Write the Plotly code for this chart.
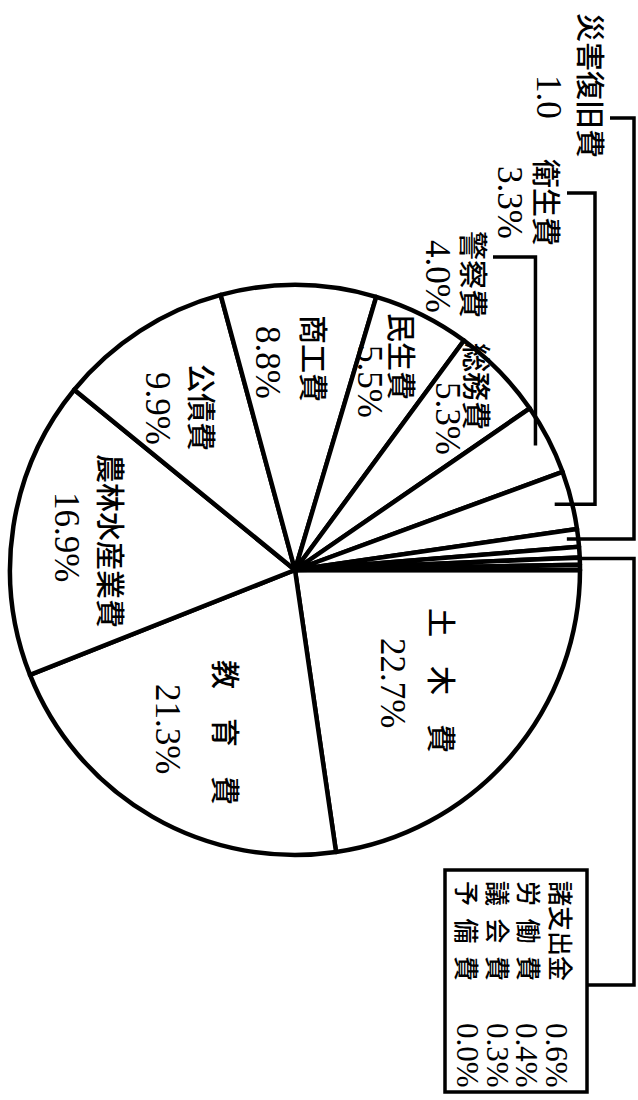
import math
import plotly.graph_objects as go

# ---- data ----
labels = ["土木費", "教育費", "農林水産業費", "公債費", "商工費", "民生費", "総務費",
          "警察費", "衛生費", "災害復旧費", "諸支出金", "労働費", "議会費", "予備費"]
values = [22.7, 21.3, 16.9, 9.9, 8.8, 5.5, 5.3, 4.0, 3.3, 1.0, 0.6, 0.4, 0.3, 0.0]
name_text = ["土　木　費", "教　育　費", "農林水産業費", "公債費", "商工費", "民生費", "総務費",
             "警察費", "衛生費", "災害復旧費", "諸支出金", "労\u2002働\u2002費", "議\u2002会\u2002費", "予\u2002備\u2002費"]
value_text = ["22.7%", "21.3%", "16.9%", "9.9%", "8.8%", "5.5%", "5.3%",
              "4.0%", "3.3%", "1.0", "0.6%", "0.4%", "0.3%", "0.0%"]

# ---- layout geometry (pixels) ----
W, H = 638, 1100
CX, CY, R = 295, 570, 285

def px(x):
    return x / W

def py(y):
    return 1 - y / H

total = sum(values)
cum = [0.0]
for v in values:
    cum.append(cum[-1] + v)

def slice_point(frac, rfrac):
    """point at fraction of the pie (clockwise from 3 o'clock), in pixels"""
    a = math.radians(360.0 * frac)
    return CX + rfrac * R * math.cos(a), CY + rfrac * R * math.sin(a)

def mid_frac(i):
    return (cum[i] + cum[i + 1]) / 2 / total

fig = go.Figure(go.Pie(
    labels=labels, values=values, sort=False, direction="clockwise", rotation=90,
    textinfo="none", hoverinfo="label+percent",
    marker=dict(colors=["white"] * len(values), line=dict(color="black", width=4.5)),
    domain=dict(x=[px(CX - R), px(CX + R)], y=[py(CY + R), py(CY - R)]),
    showlegend=False,
))

JP = "Noto Sans CJK JP"
NUM = "Liberation Serif, Noto Sans CJK JP"
ann = []

def add(text, x, y, size, family, weight=400):
    ann.append(dict(text=text, x=px(x), y=py(y), xref="paper", yref="paper",
                    xanchor="center", yanchor="middle", textangle=90, showarrow=False,
                    font=dict(family=family, size=size, color="black", weight=weight)))

# label positions (pixel centres) for name and value of each slice
name_pos = [(443, 680), (227, 732), (112, 541), (203, 407), (315, 358), (403, 356), (478, 386),
            (475, 274), (548, 202), (592, 85), (562, 931), (530, 931), (499, 931), (468, 931)]
val_pos = [(392, 683), (168, 729), (67, 537), (157, 408), (268, 362), (370, 381), (448, 418),
           (438, 276), (510, 203), (548, 97), (557, 1055), (527, 1055), (498, 1055), (468, 1055)]

for i in range(len(values)):
    small = i >= 10
    add(name_text[i], *name_pos[i], 25 if small else 29, JP, 500)
    add(value_text[i], *val_pos[i], 31 if small else 35, NUM)

shapes = []

def path(points):
    d = "M " + " L ".join(f"{px(x):.5f},{py(y):.5f}" for x, y in points)
    shapes.append(dict(type="path", path=d, xref="paper", yref="paper",
                       line=dict(color="black", width=3.5)))

# leader for 警察費
tx, ty = slice_point(mid_frac(7), 0.95)
path([(493, 257), (tx, 257), (tx, ty)])
# leader for 衛生費
tx, ty = slice_point(mid_frac(8), 0.94)
path([(567, 193), (595, 193), (595, ty), (tx, ty)])
# leader for 災害復旧費
tx, ty = slice_point(mid_frac(9), 0.96)
path([(610, 118), (634, 118), (634, ty), (tx, ty)])
# leader for the small-items box
tx, ty = slice_point(cum[11] / total, 0.92)
path([(587, 985), (634, 985), (634, ty), (tx, ty)])
# box
shapes.append(dict(type="rect", xref="paper", yref="paper",
                   x0=px(445), x1=px(587), y0=py(1092), y1=py(870),
                   line=dict(color="black", width=3.5), fillcolor="rgba(0,0,0,0)"))

fig.update_layout(width=W, height=H, margin=dict(l=0, r=0, t=0, b=0),
                  paper_bgcolor="white", plot_bgcolor="white",
                  annotations=ann, shapes=shapes)
fig.write_html("out.html", config={"displayModeBar": False},
               post_script="document.body.style.margin='0px';")
